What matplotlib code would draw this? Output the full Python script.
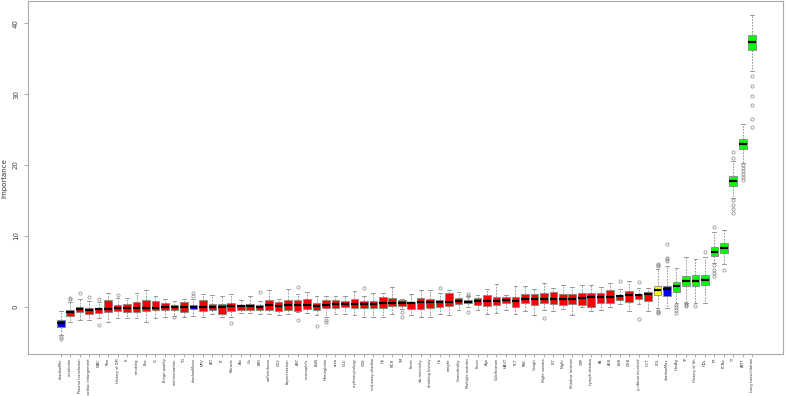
import matplotlib
matplotlib.use("Agg")
import matplotlib.pyplot as plt

# feature names, in plotted order (sorted by median importance)
features = ["shadowMin", "creatinine", "Plasma transfusion", "cardiac enlargement", "WBC",
            "Rbe", "History of DM", "K", "smoking", "Bnc", "Cl", "Binge quality",
            "sedimentation", "TG", "shadowMean", "MPV", "ALT", "LT", "Fibrosis", "Ala",
            "Ca", "BMI", "sufferedness", "CO2", "Expectoration", "AST", "eosinophils",
            "BUN", "Hemoglobin", "urea", "GLU", "erythrocytology", "CD8",
            "red-away shadow", "Hp", "MCH", "TM", "Fresh", "sib-reactivity",
            "drinking history", "Hb", "weight", "Comorbidity", "Multiple nodules",
            "Fever", "Age", "Calcification", "HBUT", "FCT", "RBC", "Cough",
            "Night sweats", "PLT", "Night", "Shadow location", "CRP", "Lymph shadow",
            "PA", "ALB", "ESR", "DHB", "y-ribbon involved", "HCT", "LDL", "shadowMax",
            "HbsAg", "TP", "History of lth", "HDL", "PT", "PCNa", "TT", "APTT",
            "Lung consolidation"]

# R = rejected, T = tentative, C = confirmed, S = shadow
decision = (["S"] + ["R"] * 13 + ["S"] + ["R"] * 48 + ["T", "S"] + ["C"] * 9)

med = [-2.26, -0.78, -0.37, -0.42, -0.32, -0.32, -0.23, -0.18, -0.14, -0.14,
       -0.14, 0.0, -0.05, -0.05, -0.05, -0.05, 0.0, 0.05, 0.14, 0.09,
       0.09, 0.05, 0.23, 0.14, 0.32, 0.23, 0.32, 0.09, 0.28, 0.37,
       0.37, 0.42, 0.42, 0.46, 0.51, 0.51, 0.6, 0.55, 0.65, 0.69,
       0.74, 0.74, 0.78, 0.74, 0.78, 0.88, 0.83, 1.0, 0.88, 1.06,
       1.06, 1.15, 1.06, 1.06, 1.1, 1.2, 1.34, 1.39, 1.43, 1.48,
       1.66, 1.66, 1.8, 2.4, 2.46, 2.9, 3.6, 3.6, 3.8, 7.8,
       8.3, 17.7, 22.9, 37.3]
q1 = [-2.8, -1.34, -0.74, -1.06, -0.92, -0.69, -0.65, -0.74, -0.78, -0.65,
      -0.46, -0.46, -0.46, -0.78, -0.37, -0.55, -0.46, -1.06, -0.6, -0.42,
      -0.51, -0.42, -0.46, -0.55, -0.42, -0.55, -0.37, -0.46, -0.18, -0.14,
      -0.09, -0.23, -0.18, -0.18, -0.14, 0.09, 0.18, -0.32, -0.32, -0.23,
      -0.09, 0.14, 0.42, 0.51, 0.32, 0.09, 0.28, 0.51, 0.05, 0.51,
      0.23, 0.51, 0.37, 0.23, 0.37, 0.32, 0.05, 0.55, 0.6, 0.92,
      0.69, 1.06, 0.83, 1.62, 1.6, 2.1, 2.9, 2.9, 3.1, 7.15,
      7.6, 17.0, 22.2, 36.2]
q3 = [-1.8, -0.42, 0.0, -0.14, -0.18, 0.97, 0.28, 0.37, 0.74, 0.97,
      0.78, 0.51, 0.23, 0.69, 0.23, 0.97, 0.42, 0.42, 0.55, 0.32,
      0.37, 0.28, 1.02, 0.65, 1.02, 0.92, 1.06, 0.51, 0.92, 0.97,
      0.78, 1.1, 0.88, 0.88, 1.4, 1.3, 0.97, 0.69, 1.3, 1.1,
      0.97, 1.9, 1.3, 0.97, 1.2, 1.7, 1.43, 1.4, 1.4, 1.76,
      1.76, 1.98, 2.08, 1.76, 1.8, 1.9, 1.9, 1.9, 2.4, 1.7,
      2.2, 1.8, 2.08, 3.0, 3.0, 3.5, 4.4, 4.5, 4.5, 8.45,
      9.0, 18.4, 23.7, 38.3]
wlo = [-4.0, -2.2, -1.8, -1.8, -1.6, -2.2, -1.6, -1.6, -1.6, -2.2,
       -1.6, -1.43, -1.25, -1.4, -1.3, -1.5, -1.06, -1.5, -1.5, -0.92,
       -0.88, -1.0, -1.0, -1.2, -1.06, -0.78, -0.88, -1.2, -1.4, -1.0,
       -0.97, -1.2, -1.5, -1.5, -1.5, -1.06, -0.32, -1.2, -1.5, -1.5,
       -1.06, -1.15, -0.46, -0.05, -0.46, -0.97, -0.83, -0.42, -0.97, -0.6,
       -1.15, -0.42, -0.6, -0.32, -1.1, 0.0, -0.55, -0.42, 0.0, 0.42,
       -0.6, 0.42, -0.55, -0.1, -0.23, 0.5, 0.6, 0.6, 0.6, 6.2,
       6.05, 15.4, 20.3, 33.3]
whi = [-0.65, 0.69, 1.06, 0.88, 0.69, 1.98, 1.25, 1.3, 1.98, 2.35,
       1.57, 1.15, 0.78, 1.15, 1.06, 1.85, 1.7, 1.6, 1.85, 1.0,
       1.57, 0.88, 2.4, 1.15, 2.5, 1.8, 2.1, 1.5, 1.5, 1.5,
       1.5, 2.3, 1.5, 1.98, 1.98, 2.8, 1.15, 1.85, 2.4, 2.4,
       1.98, 2.4, 2.1, 1.5, 1.7, 2.45, 3.2, 1.66, 2.9, 2.9,
       2.45, 3.3, 2.7, 3.1, 2.85, 3.1, 3.1, 2.85, 3.3, 2.45,
       3.7, 2.6, 2.6, 5.4, 5.8, 5.5, 7.0, 6.8, 7.0, 10.5,
       10.9, 20.5, 25.8, 41.2]
fliers = [[-4.3, -4.5], [1.1, 1.3], [1.9], [1.34], [1.15, -2.6],
          [], [1.7], [], [], [],
          [], [], [-1.5], [], [1.5, 1.9],
          [], [], [], [-2.3], [],
          [], [2.1], [], [], [],
          [2.8, -1.8], [], [-2.7], [-1.8, -2.2], [],
          [], [], [2.6], [], [],
          [], [-0.78, -1.5], [], [], [],
          [2.6], [], [], [1.6, 1.8, -0.78], [],
          [], [], [], [], [],
          [], [-1.6], [], [], [],
          [], [], [], [], [3.6],
          [], [3.5, -1.66], [], [5.7, 5.9, 6.1, -0.6, -0.7, -0.83], [6.5, 6.7, 6.9, 8.8],
          [0.3, 0.0, -0.4, -0.8], [0.5, 0.3, 0.1], [0.1], [7.7], [11.2, 5.9, 5.2, 4.8, 4.3],
          [5.2], [21.0, 21.8, 15.0, 14.4, 13.8, 13.3], [20.0, 19.6, 19.2, 18.7, 18.3, 17.9],
          [32.5, 31.2, 29.7, 28.4, 26.5, 25.3]]

colours = {"R": "#FF0000", "T": "#FFFF00", "C": "#00FF00", "S": "#0000FF"}

stats = []
for i in range(len(features)):
    stats.append({"label": features[i], "med": med[i], "q1": q1[i], "q3": q3[i],
                  "whislo": wlo[i], "whishi": whi[i], "fliers": fliers[i]})

fig = plt.figure(figsize=(7.86, 3.96), dpi=100)
ax = fig.add_axes([0.0356, 0.106, 0.96, 0.891])

bp = ax.bxp(stats, widths=0.8, patch_artist=True,
            boxprops=dict(edgecolor="#888888", linewidth=0.6),
            medianprops=dict(color="black", linewidth=1.6),
            whiskerprops=dict(color="#888888", linestyle=(0, (2, 1.5)), linewidth=0.6),
            capprops=dict(color="#888888", linewidth=0.6),
            flierprops=dict(marker="o", markersize=2.3, markerfacecolor="none",
                            markeredgecolor="#888888", markeredgewidth=0.5))
for patch, d in zip(bp["boxes"], decision):
    patch.set_facecolor(colours[d])

ax.set_xlim(-2.46, 77.2)
ax.set_ylim(-6.65, 43.1)
ax.set_yticks([0, 10, 20, 30, 40])
ax.set_yticklabels(["0", "10", "20", "30", "40"], rotation=90, va="center", fontsize=5, color="#444444")
ax.tick_params(axis="x", labelsize=2.6, labelrotation=90, length=2, width=0.5, pad=1,
               colors="#888888", labelcolor="#333333")
ax.tick_params(axis="y", length=3, width=0.5, colors="#888888", labelcolor="#444444")
ax.set_ylabel("Importance", fontsize=5, color="#333333", labelpad=4)
for s in ax.spines.values():
    s.set_color("#aaaaaa")
    s.set_linewidth(0.8)

fig.savefig("out.png", dpi=100)
